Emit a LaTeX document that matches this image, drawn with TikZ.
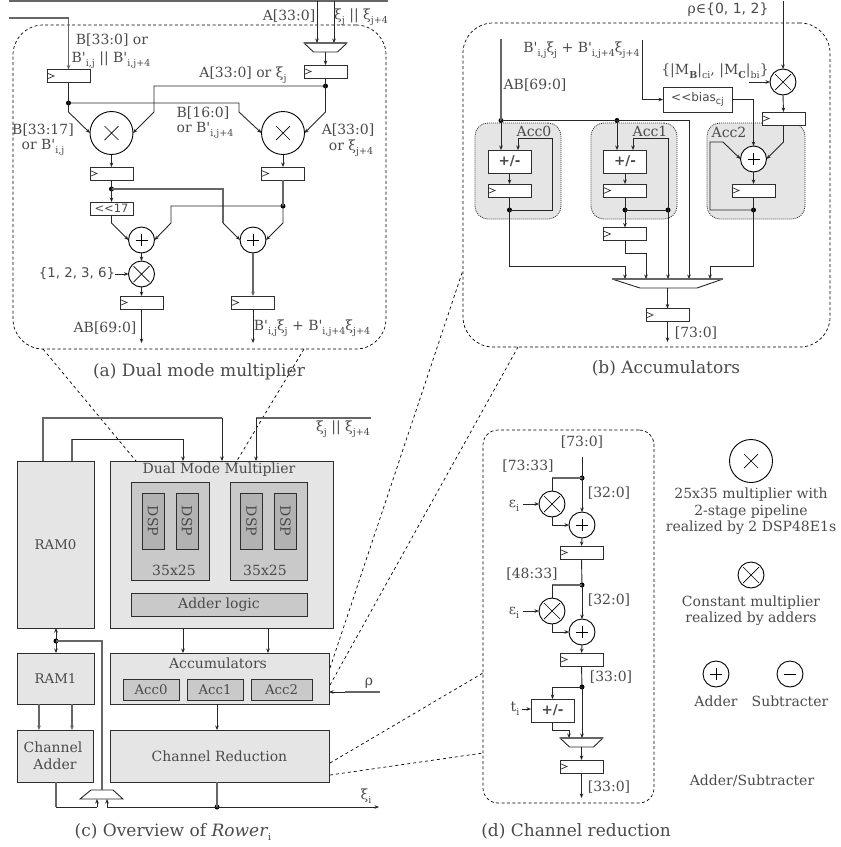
\documentclass[tikz,border=0pt]{standalone}
\usepackage{fontspec}
\setmainfont[Ligatures=TeXOff]{DejaVu Serif}
\newfontfamily\dsans{DejaVu Sans}
\usetikzlibrary{arrows.meta,calc}
\definecolor{txt}{HTML}{4A4A4A}
\definecolor{wgray}{HTML}{666666}
\definecolor{boxa}{HTML}{E5E5E5}
\definecolor{boxb}{HTML}{C9C9C9}
\definecolor{boxc}{HTML}{B2B2B2}
\definecolor{edge}{HTML}{2E2E2E}
\newcommand\sub[1]{\raisebox{-0.28em}{\fontsize{9.5}{10}\selectfont #1}}
\newcommand\lab[3]{\node[lbl] (#1) at (#2) {#3};}
\newcommand\muxdown[2]{%
  \node[muxbox] (#1) at (#2) {};
  \draw[wire,fill=white] (#1.north west) -- (#1.north east) -- ($(#1.south east)+(-9.5,0)$) -- ($(#1.south west)+(9.5,0)$) -- cycle;
  \draw[gw] (#1.north west) -- (#1.north east);}
\tikzset{
  x=1pt,y=-1pt,
  lbl/.style={inner sep=0pt,outer sep=0pt,text=txt,font=\fontsize{14}{17}\selectfont},
  captxt/.style={lbl,font=\fontsize{17}{20}\selectfont},
  wire/.style={draw=black!85,line width=0.9pt},
  gw/.style={draw=wgray,line width=1.3pt},
  arr/.style={-{Stealth[length=4.5pt,width=3.6pt]}},
  jdot/.style={circle,fill=black,inner sep=0pt,minimum size=5pt},
  reg/.style={draw=edge,line width=0.9pt,fill=white,minimum width=43pt,minimum height=13pt,inner sep=0pt,outer sep=0pt,
    path picture={\draw[edge,line width=0.7pt] ([yshift=3pt]path picture bounding box.west) -- ++(7,3) -- ++(-7,3);}},
  opbox/.style={draw=edge,line width=0.9pt,fill=white,minimum width=43pt,minimum height=23pt,inner sep=0pt,outer sep=0pt,
    text=txt,font=\dsans\bfseries\fontsize{13.5}{16}\selectfont},
  circ/.style={circle,draw=black,line width=0.9pt,fill=white,inner sep=0pt,outer sep=0pt},
  bigmul/.style={circ,minimum size=43pt,path picture={\draw[black,line width=0.7pt] ($(path picture bounding box.center)+(-7,-7)$) -- ++(14,14) ($(path picture bounding box.center)+(7,-7)$) -- ++(-14,14);}},
  smul/.style={circ,minimum size=26pt,path picture={\draw[black,line width=0.7pt] ($(path picture bounding box.center)+(-8,-8)$) -- ++(16,16) ($(path picture bounding box.center)+(8,-8)$) -- ++(-16,16);}},
  add/.style={circ,minimum size=26pt,path picture={\draw[black,line width=0.7pt] ($(path picture bounding box.center)+(-6,0)$) -- ++(12,0) ($(path picture bounding box.center)+(0,-6)$) -- ++(0,12);}},
  subt/.style={circ,minimum size=26pt,path picture={\draw[black,line width=0.7pt] ($(path picture bounding box.center)+(-6,0)$) -- ++(12,0);}},
  panel/.style={draw=black,line width=0.7pt,dash pattern=on 3pt off 2.4pt,rounded corners=#1,inner sep=0pt,outer sep=0pt},
  zoomline/.style={draw=black,line width=0.7pt,dash pattern=on 3pt off 3pt},
  accbg/.style={draw=black!80,line width=0.8pt,dash pattern=on 1pt off 1pt,fill=boxa,rounded corners=13pt,inner sep=0pt,outer sep=0pt},
  muxbox/.style={inner sep=0pt,outer sep=0pt,minimum width=43pt,minimum height=9pt},
  block/.style={draw=edge,line width=0.9pt,fill=boxa,inner sep=0pt,outer sep=0pt,text=txt,font=\fontsize{14}{17}\selectfont},
  blockb/.style={block,fill=boxb},
  blockc/.style={block,fill=boxc},
  small/.style={font=\fontsize{13.3}{16}\selectfont},
}
\begin{document}
\begin{tikzpicture}
\useasboundingbox (0,0) rectangle (841,847);

% ===== panel (a)
\node[panel=30pt,minimum width=373pt,minimum height=324pt] (panelA) at (199.5,187) {};
\coordinate (tL) at (9,1); \coordinate (tR) at (388,1);
\coordinate (tA) at (317,1); \coordinate (tX) at (334,1);
\coordinate (bS) at (9,18);
\draw[gw] (tL) -- (tR);
\node[reg] (rB) at (68.5,76) {};
\muxdown{mxA}{325.5,47.5}
\node[reg] (rA) at (325.5,71.5) {};
\node[bigmul] (m1) at (111.5,133) {};
\node[bigmul] (m2) at (283,133) {};
\node[reg] (r1) at (111.5,173.5) {};
\node[reg] (r2) at (283,173.5) {};
\node[draw=edge,line width=0.9pt,fill=white,minimum width=43pt,minimum height=13pt,inner sep=0pt,outer sep=0pt,text=txt,font=\dsans\fontsize{11.5}{14}\selectfont] (sh17) at (111.5,208.5) {<{}<17};
\node[add] (a1) at (141.5,240) {};
\node[add] (a2) at (253,240) {};
\node[smul] (m3) at (141.5,274) {};
\node[reg] (r3) at (141.5,302.5) {};
\node[reg] (r4) at (253,302.5) {};
\node[jdot] (jA) at (325.5,86) {};
\node[jdot] (jB) at (68.5,103) {};
\node[jdot] (jC) at (111.5,189) {};
\node[jdot] (jD) at (283,206) {};
\coordinate (c136) at (115,274);
\coordinate (o1) at (141.5,343); \coordinate (o2) at (253,343);
\draw[wire,arr] (tA) -- (tA |- mxA.north);
\draw[wire,arr] (tX) -- (tX |- mxA.north);
\draw[gw,arr] (bS) -| (rB.north);
\draw[wire,arr] (mxA.south) -- (rA.north);
\draw[wire] (rA.south) -- (jA.center);
\draw[wire,arr] (jA.center) -- (325.5,112) -- (m2.east);
\draw[wire,arr] (jA.center) -- (154,86) -- (154,112) -- (m1.east);
\draw[wire] (rB.south) -- (jB.center);
\draw[wire,arr] (jB.center) -- (68.5,112) -- (m1.west);
\draw[wire,arr] (jB.center) -- (239,103) -- (239,112) -- (m2.west);
\draw[wire,arr] (m1.south) -- (r1.north);
\draw[wire,arr] (m2.south) -- (r2.north);
\draw[wire] (r1.south) -- (jC.center);
\draw[wire,arr] (jC.center) -- (sh17.north);
\draw[gw] (jC.center) -- (223,189) -- (223,223);
\draw[wire,arr] (223,223) -- (a2.west);
\draw[gw] (r2.south) -- (jD.center);
\draw[wire,arr] (jD.center) -- (283,223) -- (a2.east);
\draw[wire,arr] (jD.center) -- (171,206) -- (171,223) -- (a1.east);
\draw[wire,arr] (sh17.south) -- (111.5,223) -- (a1.west);
\draw[wire,arr] (a1.south) -- (m3.north);
\draw[wire,arr] (c136) -- (m3.west);
\draw[wire,arr] (m3.south) -- (r3.north);
\draw[gw,arr] (a2.south) -- (r4.north);
\draw[wire,arr] (r3.south) -- (o1);
\draw[wire,arr] (r4.south) -- (o2);
\lab{ta1}{112,40}{B[33:0] or}
\lab{ta2}{111,60}{B'\sub{i,j} || B'\sub{i,j+4}}
\lab{ta3}{289,16}{A[33:0]}
\lab{ta4}{361,17}{ξ\sub{j} || ξ\sub{j+4}}
\lab{ta5}{243,75}{A[33:0] or ξ\sub{j}}
\lab{ta6}{203,113}{B[16:0]}
\lab{ta7}{205,130}{or B'\sub{i,j+4}}
\lab{ta8}{43,130}{B[33:17]}
\lab{ta9}{43,147}{or B'\sub{i,j}}
\lab{ta10}{348,130}{A[33:0]}
\lab{ta11}{351,148}{or ξ\sub{j+4}}
\node[lbl,font=\dsans\fontsize{13.3}{16}\selectfont] (ta12) at (77,274) {\{1, 2, 3, 6\}};
\lab{ta13}{105,328}{AB[69:0]}
\lab{ta14}{312,328}{B'\sub{i,j}ξ\sub{j} + B'\sub{i,j+4}ξ\sub{j+4}}
\node[captxt] (capA) at (199,372) {(a) Dual mode multiplier};

% ===== zoom lines
\coordinate (z1a) at (43,349); \coordinate (z1b) at (136,461);
\coordinate (z2a) at (304,349); \coordinate (z2b) at (235,464);
\coordinate (z3a) at (330,668); \coordinate (z3b) at (463,270);
\coordinate (z4a) at (330,685); \coordinate (z4b) at (518,347);
\coordinate (z5a) at (330,763); \coordinate (z5b) at (483,673);
\coordinate (z6a) at (330,775); \coordinate (z6b) at (483,753);

% ===== panel (c)
\node[block,small,minimum width=77pt,minimum height=167pt] (ram0) at (55.5,544.5) {RAM0};
\node[block,minimum width=223pt,minimum height=167pt] (dmm) at (221.5,544.5) {};
\draw[zoomline] (z1a) -- (z1b);
\draw[zoomline] (z2a) -- (z2b);
\draw[zoomline] (z3a) -- (z3b);
\draw[zoomline] (z4a) -- (z4b);
\draw[zoomline] (z5a) -- (z5b);
\draw[zoomline] (z6a) -- (z6b);
\node[lbl] (dmmT) at (219,470) {Dual Mode Multiplier};
\node[blockb,minimum width=78pt,minimum height=98pt] (ml) at (170,531) {};
\node[blockb,minimum width=77pt,minimum height=98pt] (mr) at (268.5,531) {};
\node[blockc,minimum width=22pt,minimum height=56pt] (d1) at (153,521) {\rotatebox{-90}{DSP}};
\node[blockc,minimum width=22pt,minimum height=56pt] (d2) at (187,521) {\rotatebox{-90}{DSP}};
\node[blockc,minimum width=22pt,minimum height=56pt] (d3) at (251.5,521) {\rotatebox{-90}{DSP}};
\node[blockc,minimum width=22pt,minimum height=56pt] (d4) at (285.5,521) {\rotatebox{-90}{DSP}};
\lab{t3525a}{174,570}{35x25}
\lab{t3525b}{265,570}{35x25}
\node[blockb,minimum width=176pt,minimum height=23pt] (addl) at (219,604.5) {Adder logic};
\node[block,small,minimum width=77pt,minimum height=51pt] (ram1) at (55.5,678.5) {RAM1};
\node[block,minimum width=76pt,minimum height=52pt] (chad) at (55,756) {};
\lab{tch1}{53,747.5}{Channel}
\lab{tch2}{55,764}{Adder}
\node[block,minimum width=219pt,minimum height=51pt] (accu) at (219.5,678.5) {};
\lab{tacc}{218,663}{Accumulators}
\node[blockb,small,minimum width=56pt,minimum height=21pt] (ac0) at (151,689.5) {Acc0};
\node[blockb,small,minimum width=56pt,minimum height=21pt] (ac1) at (215,689.5) {Acc1};
\node[blockb,small,minimum width=61pt,minimum height=21pt] (ac2) at (281.5,689.5) {Acc2};
\node[block,minimum width=219pt,minimum height=52pt] (chre) at (219.5,756) {Channel Reduction};
% overview wires
\coordinate (w1) at (43,461); \coordinate (w1b) at (222,418);
\coordinate (w2) at (72,461); \coordinate (w2b) at (183,439);
\coordinate (xiS) at (371,418); \coordinate (xiB) at (256,418);
\draw[gw] (w1) -- (w1 |- w1b) -- (w1b);
\draw[wire,arr] (w1b) -- (w1b |- dmm.north);
\draw[gw] (w2) -- (w2 |- w2b);
\draw[wire] (w2 |- w2b) -- (w2b);
\draw[wire,arr] (w2b) -- (w2b |- dmm.north);
\draw[gw] (xiS) -- (xiB);
\draw[wire,arr] (xiB) -- (xiB |- dmm.north);
\lab{txi}{343,429}{ξ\sub{j} || ξ\sub{j+4}}
\coordinate (dx1) at (183,628); \coordinate (dx2) at (268,628);
\draw[wire,arr] (dx1) -- (dx1 |- accu.north);
\draw[wire,arr] (dx2) -- (dx2 |- accu.north);
\coordinate (acS) at (217,704);
\draw[wire,arr] (acS) -- (acS |- chre.north);
\coordinate (rA1) at (39,704); \coordinate (rA2) at (72,704);
\draw[gw,arr] (rA1) -- (rA1 |- chad.north);
\draw[gw,arr] (rA2) -- (rA2 |- chad.north);
\node[jdot] (jR) at (56,641) {};
\coordinate (r0s) at (56,628); \coordinate (r1n) at (56,653);
\draw[wire,arr] (jR.center) -- (r0s);
\draw[wire,arr] (jR.center) -- (r1n);
\node[muxbox] (mxC) at (101.5,794.5) {};
\draw[wire] ($(mxC.north west)+(11,0)$) -- ($(mxC.north east)+(-10,0)$) -- (mxC.south east) -- (mxC.south west) -- cycle;
\draw[gw] (jR.center) -- (102,641) -- (102,790);
\node[jdot] (jS) at (217,807) {};
\coordinate (mi1) at (97,807); \coordinate (mi2) at (107,807);
\coordinate (xiO) at (379,807);
\coordinate (chS) at (56,782); \coordinate (crS) at (217,782);
\draw[gw] (chS) -- (chS |- mi1);
\draw[wire] (chS |- mi1) -- (mi1);
\draw[wire,arr] (mi1) -- (mi1 |- mxC.south);
\draw[wire,arr] (mi2) -- (mi2 |- mxC.south);
\draw[wire] (mi2) -- (jS.center);
\draw[wire,arr] (jS.center) -- (xiO);
\draw[gw] (crS) -- (jS.center);
\coordinate (rhoS) at (380,692);
\draw[gw] (rhoS) -- (345,692);
\draw[wire,arr] (345,692) -- (rhoS -| accu.east);
\lab{trho}{369,683}{ρ}
\lab{txio}{366,796}{ξ\sub{i}}
\node[captxt] (capC) at (173,832) {(c) Overview of \textit{Rower}\sub{i}};

% ===== panel (b)
\node[panel=30pt,minimum width=367pt,minimum height=324pt] (panelB) at (646.5,185) {};
\node[accbg,minimum width=86pt,minimum height=96pt] (bg0) at (518,171) {};
\node[accbg,minimum width=86pt,minimum height=96pt] (bg1) at (634,171) {};
\node[accbg,minimum width=98pt,minimum height=96pt] (bg2) at (756,171) {};
\lab{tA0}{534,131}{Acc0}
\lab{tA1}{650,131}{Acc1}
\lab{tA2}{729,132}{Acc2}
\node[opbox] (pm0) at (509.5,161.5) {+/-};
\node[opbox] (pm1) at (625,161.5) {+/-};
\node[reg] (rb0) at (509.5,190.5) {};
\node[reg] (rb1) at (625,190.5) {};
\node[reg] (rb2) at (753.5,190.5) {};
\node[reg] (rb3) at (625,234) {};
\node[add] (ab) at (753.5,159) {};
\node[smul] (mb) at (783,82) {};
\node[reg] (rb4) at (783.5,118.5) {};
\node[draw=edge,line width=0.9pt,fill=white,minimum width=69pt,minimum height=25pt,inner sep=0pt,outer sep=0pt,text=txt,font=\dsans\fontsize{12}{14}\selectfont] (bias) at (697.5,99.5) {<{}<bias\sub{cj}};
\node[muxbox,minimum width=111pt] (mxB) at (667.5,283.5) {};
\draw[wire] (mxB.north west) -- ($(mxB.south west)+(28,0)$) -- ($(mxB.south east)+(-26,0)$) -- (mxB.north east);
\draw[gw] (mxB.north west) -- (mxB.north east);
\node[reg] (rb5) at (667.5,315) {};
\node[jdot] (jb0) at (501,120.5) {};
\node[jdot] (jb1) at (617,120.5) {};
\node[jdot] (f0) at (509.5,210) {};
\node[jdot] (f1) at (625,210) {};
\node[jdot] (f1b) at (668,210) {};
\node[jdot] (f2) at (753.5,210) {};
\coordinate (abS) at (501,39); \coordinate (bpS) at (642,40); \coordinate (rhoT) at (783,1);
\coordinate (mcS) at (749,82); \coordinate (oB) at (667.5,342);
\draw[gw] (abS) -- (jb0.center);
\draw[wire,arr] (jb0.center) -- (jb0 |- pm0.north);
\draw[wire] (jb0.center) -- (jb1.center);
\draw[wire,arr] (jb1.center) -- (jb1 |- pm1.north);
\draw[wire,arr] (jb1.center) -- (689,120.5) -- (689,279);
\draw[wire] (bpS) -- (642,99.5);
\draw[wire,arr] (642,99.5) -- (bias.west);
\draw[wire,arr] (bias.east) -- (753.5,99.5) -- (ab.north);
\draw[wire,arr] (rhoT) -- (mb.north);
\draw[wire,arr] (mcS) -- (mb.west);
\draw[wire,arr] (mb.south) -- (rb4.north);
\draw[wire,arr] (rb4.south) -- (783.5,142) -- (ab.east);
\draw[wire,arr] (pm0.south) -- (rb0.north);
\draw[wire,arr] (pm1.south) -- (rb1.north);
\draw[wire,arr] (ab.south) -- (rb2.north);
\draw[wire] (rb0.south) -- (f0.center);
\draw[wire,arr] (f0.center) -- (552,210) -- (552,138) -- (518,138) -- (518,150);
\draw[wire] (rb1.south) -- (f1.center);
\draw[wire] (f1.center) -- (f1b.center);
\draw[wire,arr] (f1b.center) -- (668,138) -- (633,138) -- (633,150);
\draw[wire] (rb2.south) -- (f2.center);
\draw[wire,arr] (f2.center) -- (710,210) -- (710,142) -- (723,142) -- (ab.west);
\draw[wire,arr] (f1.center) -- (rb3.north);
\draw[wire] (rb3.south) -- (625,253) -- (646,253);
\draw[wire,arr] (646,253) -- (646,279);
\draw[wire,arr] (f0.center) -- (509.5,266) -- (625,266) -- (625,279);
\draw[wire,arr] (f2.center) -- (753.5,266) -- (710,266) -- (710,279);
\draw[wire,arr] (f1b.center) -- (668,279);
\draw[wire,arr] (mxB.south) -- (rb5.north);
\draw[wire,arr] (rb5.south) -- (oB);
\node[lbl] (tb1) at (728,10) {ρ∈{\dsans\fontsize{14}{16}\selectfont\{0, 1, 2\}}};
\lab{tb2}{581.5,50}{B'\sub{i,j}ξ\sub{j} + B'\sub{i,j+4}ξ\sub{j+4}}
\lab{tb3}{535,85}{AB[69:0]}
\lab{tb4}{715,71}{\{|M\sub{\textbf{B}}|\sub{ci}, |M\sub{\textbf{C}}|\sub{bi}\}}
\lab{tb5}{696,333}{[73:0]}
\node[captxt] (capB) at (666,368) {(b) Accumulators};

% ===== panel (d)
\node[panel=15pt,minimum width=171pt,minimum height=373pt] (panelD) at (568.5,616.5) {};
\node[add] (ad1) at (582,525) {};
\node[smul] (md1) at (552,504) {};
\node[reg] (rd1) at (581.5,552.5) {};
\node[add] (ad2) at (582,632) {};
\node[smul] (md2) at (552,611) {};
\node[reg] (rd2) at (581.5,659.5) {};
\node[opbox] (pmd) at (552.5,710.5) {+/-};
\muxdown{mxD}{581.5,742.5}
\node[reg] (rd3) at (581.5,766.5) {};
\node[jdot] (jd1) at (582,478) {};
\node[jdot] (jd2) at (582,585) {};
\node[jdot] (jd3) at (582,687) {};
\coordinate (dS) at (582,457); \coordinate (dO) at (581.5,798);
\coordinate (eps1) at (523,504); \coordinate (eps2) at (523,611); \coordinate (tiS) at (522,709);
\draw[wire] (dS) -- (jd1.center);
\draw[wire,arr] (jd1.center) -- (ad1.north);
\draw[gw] (jd1.center) -- (552,478);
\draw[wire] (552,478) -- (md1.north);
\draw[wire,arr] (eps1) -- (md1.west);
\draw[wire,arr] (md1.south) -- (552,525) -- (ad1.west);
\draw[wire,arr] (ad1.south) -- (rd1.north);
\draw[wire] (rd1.south) -- (jd2.center);
\draw[wire,arr] (jd2.center) -- (ad2.north);
\draw[gw] (jd2.center) -- (552,585);
\draw[wire] (552,585) -- (md2.north);
\draw[wire,arr] (eps2) -- (md2.west);
\draw[wire,arr] (md2.south) -- (552,632) -- (ad2.west);
\draw[wire,arr] (ad2.south) -- (rd2.north);
\draw[wire] (rd2.south) -- (jd3.center);
\draw[wire,arr] (jd3.center) -- (582,738);
\draw[wire,arr] (jd3.center) -- (552.5,687) -- (pmd.north);
\draw[wire,arr] (tiS) -- (tiS -| pmd.west);
\draw[wire,arr] (pmd.south) -- (552.5,730) -- (569,730) -- (569,738);
\draw[wire,arr] (mxD.south) -- (rd3.north);
\draw[wire,arr] (rd3.south) -- (dO);
\lab{td1}{582,442}{[73:0]}
\lab{td2}{528,466}{[73:33]}
\lab{td3}{609,493}{[32:0]}
\lab{td4}{514,506}{ε\sub{i}}
\lab{td5}{532,574}{[48:33]}
\lab{td6}{609,600}{[32:0]}
\lab{td7}{514,613}{ε\sub{i}}
\lab{td8}{611,677}{[33:0]}
\lab{td9}{515,709}{t\sub{i}}
\lab{td10}{609,787}{[33:0]}
\node[captxt] (capD) at (576,831) {(d) Channel reduction};

% ===== legend
\node[bigmul] (lgM) at (751,461) {};
\lab{lg1}{751,495}{25x35 multiplier with}
\lab{lg2}{751,512}{2-stage pipeline}
\lab{lg3}{751,528}{realized by 2 DSP48E1s}
\node[smul] (lgC) at (751,575) {};
\lab{lg4}{751,603}{Constant multiplier}
\lab{lg5}{751,619}{realized by adders}
\node[add] (lgA) at (716,674) {};
\node[subt] (lgS) at (790,674) {};
\lab{lg6}{716,701}{Adder}
\lab{lg7}{790,701}{Subtracter}
\lab{lg8}{752,781}{Adder/Subtracter}
\end{tikzpicture}
\end{document}
